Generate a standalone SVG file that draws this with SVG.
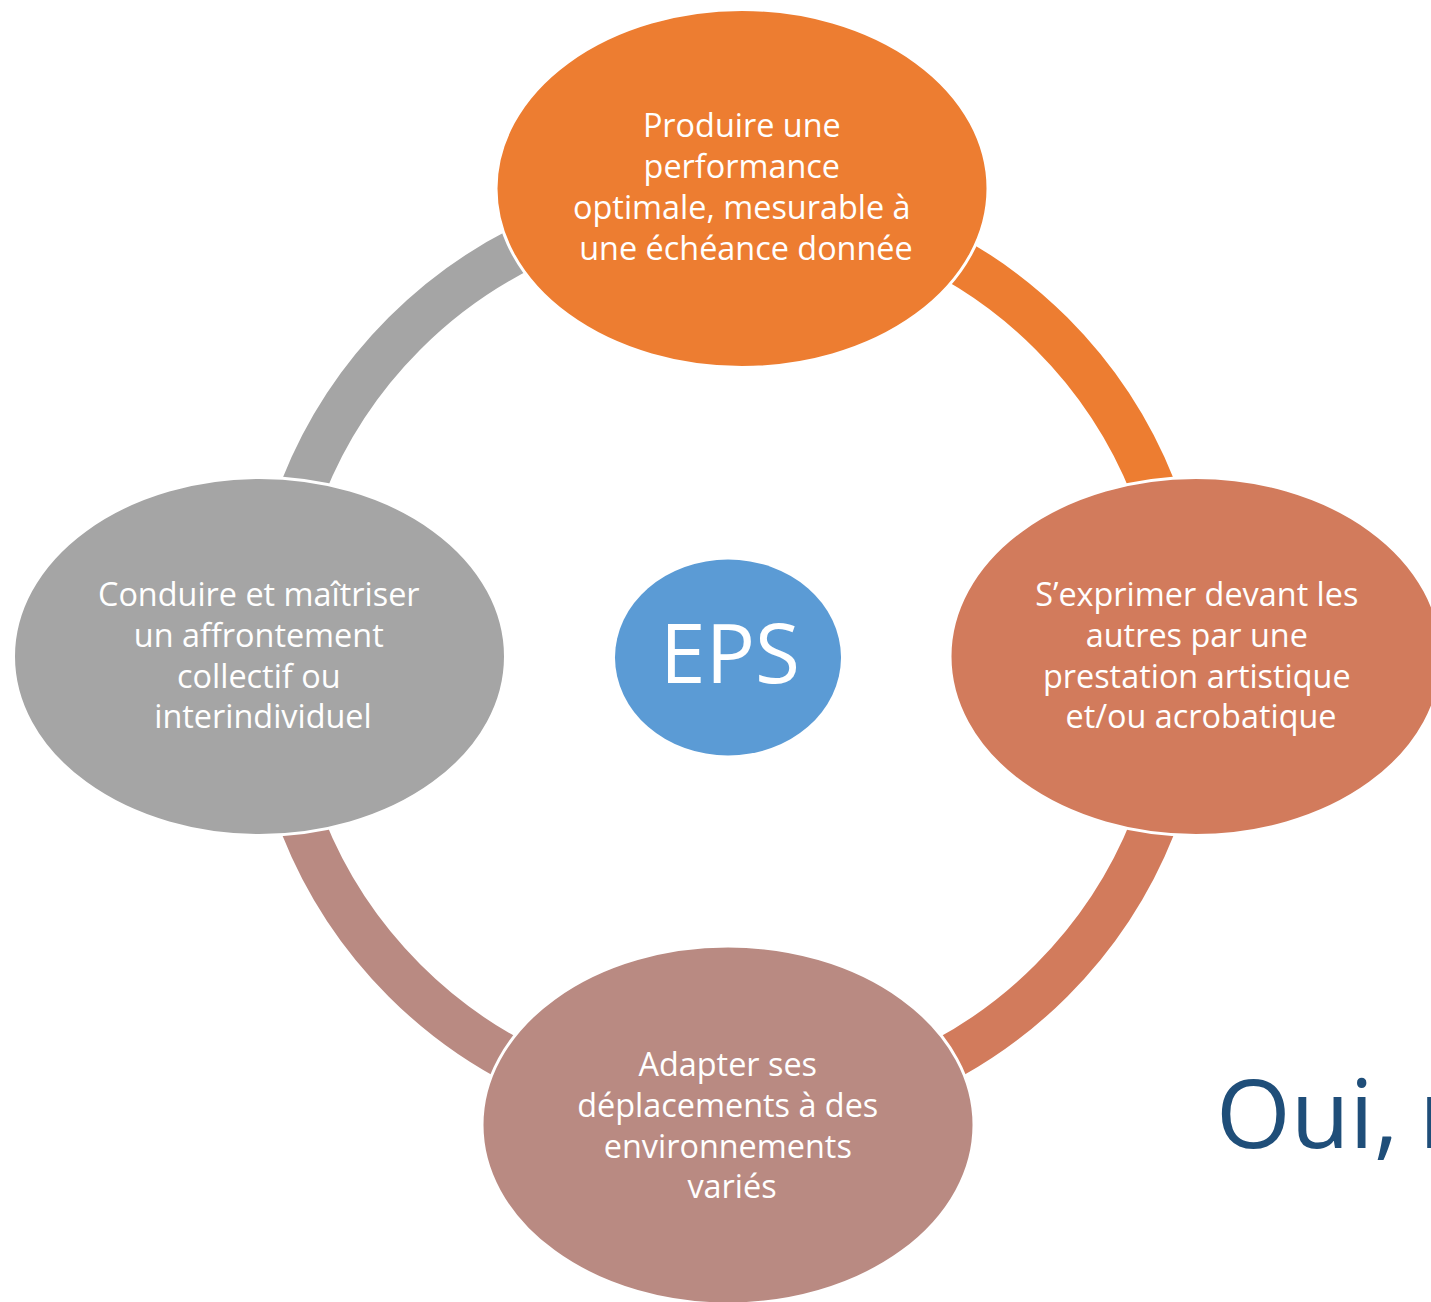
<svg xmlns="http://www.w3.org/2000/svg" width="1431" height="1302" viewBox="0 0 1431 1302">
  <style>
    .ring { fill: none; stroke-width: 45; }
    .node { stroke: #ffffff; stroke-width: 3; }
    .label { font-family: "Open Sans", "Liberation Sans", sans-serif; font-size: 32.4px; fill: #ffffff; text-anchor: middle; }
  </style>
  <rect width="1431" height="1302" fill="#ffffff"/>

  <!-- cycle connectors: ring segments between neighbouring nodes -->
  <g id="connectors">
    <path class="ring" stroke="#A5A5A5" d="M 270.5 657 A 457.5 457.5 0 0 1 728 199.5"/>
    <path class="ring" stroke="#ED7D31" d="M 728 199.5 A 457.5 457.5 0 0 1 1185.5 657"/>
    <path class="ring" stroke="#D27B5C" d="M 1185.5 657 A 457.5 457.5 0 0 1 728 1114.5"/>
    <path class="ring" stroke="#B98A82" d="M 728 1114.5 A 457.5 457.5 0 0 1 270.5 657"/>
  </g>

  <g id="node-performance">
    <ellipse class="node" cx="742" cy="188.5" rx="246" ry="179" fill="#ED7D31"/>
    <text class="label">
      <tspan x="746" y="137">Produire une</tspan>
      <tspan x="746" y="178">performance</tspan>
      <tspan x="746" y="219">optimale, mesurable à</tspan>
      <tspan x="746" y="260">une échéance donnée</tspan>
    </text>
  </g>

  <g id="node-expression">
    <ellipse class="node" cx="1196" cy="656.5" rx="246" ry="179" fill="#D27B5C"/>
    <text class="label">
      <tspan x="1201" y="606">S’exprimer devant les</tspan>
      <tspan x="1201" y="647">autres par une</tspan>
      <tspan x="1201" y="688">prestation artistique</tspan>
      <tspan x="1201" y="728">et/ou acrobatique</tspan>
    </text>
  </g>

  <g id="node-deplacements">
    <ellipse class="node" cx="728" cy="1125" rx="246" ry="179" fill="#B98A82"/>
    <text class="label">
      <tspan x="732" y="1076">Adapter ses</tspan>
      <tspan x="732" y="1117">déplacements à des</tspan>
      <tspan x="732" y="1158">environnements</tspan>
      <tspan x="732" y="1198">variés</tspan>
    </text>
  </g>

  <g id="node-affrontement">
    <ellipse class="node" cx="259.5" cy="656.5" rx="246" ry="179" fill="#A5A5A5"/>
    <text class="label">
      <tspan x="263" y="606">Conduire et maîtriser</tspan>
      <tspan x="263" y="647">un affrontement</tspan>
      <tspan x="263" y="688">collectif ou</tspan>
      <tspan x="263" y="728">interindividuel</tspan>
    </text>
  </g>

  <g id="node-eps">
    <ellipse cx="728" cy="657.5" rx="113" ry="98" fill="#5B9BD5"/>
    <text x="730" y="683" font-family="Open Sans, Liberation Sans, sans-serif" font-size="82" fill="#ffffff" text-anchor="middle">EPS</text>
  </g>

  <text y="1148" font-family="Open Sans, Liberation Sans, sans-serif" font-size="96" fill="#1F4E79"><tspan x="1216">Oui,</tspan><tspan x="1419">m</tspan></text>
</svg>
